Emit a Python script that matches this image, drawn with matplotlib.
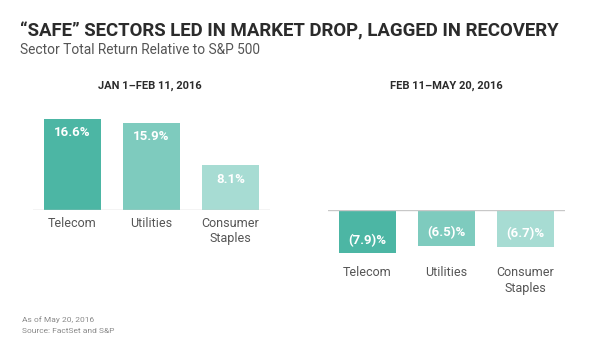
import matplotlib
matplotlib.use("Agg")
import matplotlib.pyplot as plt

# data
sectors = ["Telecom", "Utilities", "Consumer\nStaples"]
drop_values = [16.6, 15.9, 8.1]        # Jan 1 - Feb 11, 2016
recovery_values = [-7.9, -6.5, -6.7]   # Feb 11 - May 20, 2016
bar_colors = ["#4cb6a4", "#7ecbbe", "#a7dcd3"]

plt.rcParams["font.family"] = ["Roboto", "DejaVu Sans"]

W, H = 600, 358
fig = plt.figure(figsize=(W / 100, H / 100), dpi=100)

def px_axes(left, top, right, bottom):
    # pixel box (from top-left) -> figure fraction
    return fig.add_axes([left / W, 1 - bottom / H, (right - left) / W, (bottom - top) / H])

def fit_width(txt, target_px):
    # shrink/grow font so the text spans the same width as in the reference
    r = fig.canvas.get_renderer()
    w = txt.get_window_extent(renderer=r).width
    txt.set_fontsize(txt.get_fontsize() * target_px / w)

scale = 5.5  # pixels per percentage point

ax1 = px_axes(33, 100, 270, 210)
ax2 = px_axes(328, 210, 565, 262)
ax1.set_ylim(0, 110 / scale)
ax2.set_ylim(-52 / scale, 0)

for ax, vals in [(ax1, drop_values), (ax2, recovery_values)]:
    x = range(len(vals))
    ax.bar(x, vals, width=0.72, color=bar_colors, zorder=2)
    ax.set_xlim(-0.5, 2.5)
    ax.axhline(0, color="#c8c8c8", lw=1.0, zorder=3)
    ax.axis("off")

for i, v in enumerate(drop_values):
    ax1.annotate(f"{v:.1f}%", (i, v), xytext=(0, -10), textcoords="offset points",
                 ha="center", va="center", color="white", fontsize=9.5, fontweight="bold")
    ax1.annotate(sectors[i], (i, 0), xytext=(0, -5), textcoords="offset points",
                 ha="center", va="top", color="#555555", fontsize=9, linespacing=1.25)

for i, v in enumerate(recovery_values):
    ax2.annotate(f"({abs(v):.1f})%", (i, v), xytext=(0, 9.5), textcoords="offset points",
                 ha="center", va="center", color="white", fontsize=9.5, fontweight="bold")
    ax2.annotate(sectors[i], (i, -52 / scale), xytext=(0, -3), textcoords="offset points",
                 ha="center", va="top", color="#555555", fontsize=9, linespacing=1.25,
                 annotation_clip=False)

title = fig.text(20 / W, 1 - 31 / H, "\u201cSAFE\u201d SECTORS LED IN MARKET DROP, LAGGED IN RECOVERY",
                 fontsize=14, fontweight="bold", color="#2b2b2b", va="center", ha="left")
subtitle = fig.text(20 / W, 1 - 50 / H, "Sector Total Return Relative to S&P 500",
                    fontsize=10.5, color="#555555", va="center", ha="left")
fit_width(title, 542)
fit_width(subtitle, 242)
fig.text(150 / W, 1 - 86 / H, "JAN 1\u2013FEB 11, 2016",
         fontsize=8, fontweight="bold", color="#2b2b2b", va="center", ha="center")
fig.text(446 / W, 1 - 86 / H, "FEB 11\u2013MAY 20, 2016",
         fontsize=8, fontweight="bold", color="#2b2b2b", va="center", ha="center")
fig.text(22 / W, 1 - 320 / H, "As of May 20, 2016",
         fontsize=6, color="#8a8a8a", va="center", ha="left")
fig.text(22 / W, 1 - 331 / H, "Source: FactSet and S&P",
         fontsize=6, color="#8a8a8a", va="center", ha="left")

fig.savefig("out.png", dpi=100, facecolor="white")
